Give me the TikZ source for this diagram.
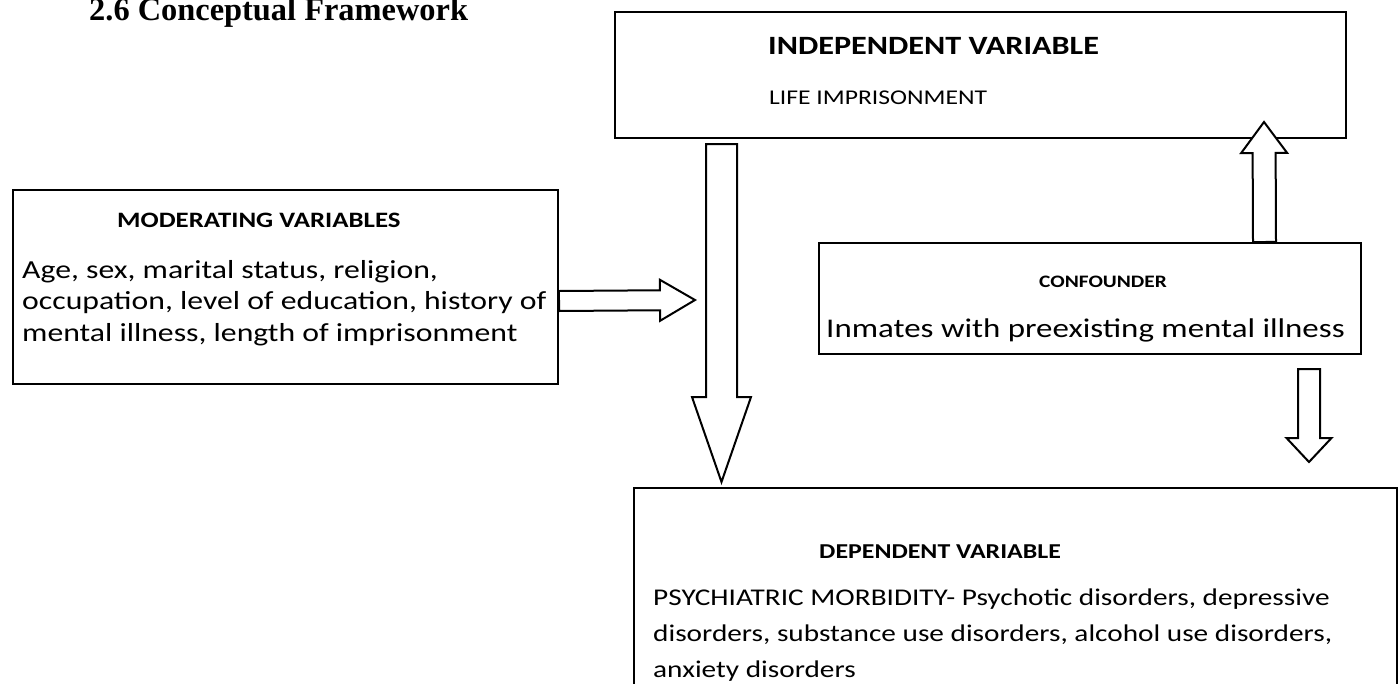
\documentclass[tikz,border=0pt]{standalone}
\usepackage{fontspec}
\setmainfont{Carlito}[FakeStretch=1.22]
\newfontfamily\titlefont{Liberation Serif}
\usetikzlibrary{positioning,calc}

% hollow block arrow: from, to, half shaft, half head, head length
\newcommand{\hollowarrow}[5]{%
  \coordinate (ha-h) at ($(#2)!#5!(#1)$);
  \draw[fat] ($(#1)!#3!90:(#2)$) -- ($(ha-h)!#3!-90:(#1)$) -- ($(ha-h)!#4!-90:(#1)$) -- (#2)
    -- ($(ha-h)!#4!90:(#1)$) -- ($(ha-h)!#3!90:(#1)$) -- ($(#1)!#3!-90:(#2)$) -- cycle;}
\newcommand{\fsz}[2]{\fontsize{#1}{#2}\selectfont}

\begin{document}
\begin{tikzpicture}[x=1pt, y=-1pt,
  box/.style={draw, line width=2pt, rectangle, anchor=north west, inner sep=0pt},
  boxhead/.style={inner sep=0pt, anchor=base west, font=\bfseries\fsz{22}{26}},
  boxtext/.style={inner sep=0pt, anchor=base west, align=left, font=\fsz{26}{31.5}},
  fat/.style={draw, fill=white, line width=2pt, line join=miter}
]
\useasboundingbox (0,0) rectangle (1398,683);

\node[inner sep=0pt, anchor=base west, font=\titlefont\bfseries\fsz{32.4}{36}] (title) at (89,20) {2.6 Conceptual Framework};

% boxes
\node[box, minimum width=731pt, minimum height=126pt] (indep) at (614,11) {};
\node[box, minimum width=545pt, minimum height=194pt] (moder) at (12,189) {};
\node[box, minimum width=542pt, minimum height=111pt] (conf) at (818,242) {};
\node[box, minimum width=763pt, minimum height=230pt] (dep) at (633,487) {};

% texts (multi-line ones sit on their last baseline)
\node[boxhead, font=\bfseries\fsz{26.4}{30}, below right=43pt and 154pt of indep.north west, anchor=base west] (indephead) {INDEPENDENT VARIABLE};
\node[boxtext, font=\fsz{21}{26}, below right=93pt and 155pt of indep.north west, anchor=base west] (indeptext) {LIFE IMPRISONMENT};
\node[boxhead, below right=38pt and 105pt of moder.north west, anchor=base west] (moderhead) {MODERATING VARIABLES};
\node[boxtext, below right=152pt and 10pt of moder.north west, anchor=base west] (modertext) {Age, sex, marital status, religion,\\occupation, level of education, history of\\mental illness, length of imprisonment};
\node[boxhead, font=\bfseries\fsz{17.5}{21}, below right=45pt and 221pt of conf.north west, anchor=base west] (confhead) {CONFOUNDER};
\node[boxtext, font=\fsz{27}{31.5}, below right=95pt and 8pt of conf.north west, anchor=base west] (conftext) {Inmates with preexisting mental illness};
\node[boxhead, font=\bfseries\fsz{21.2}{25}, below right=71pt and 186pt of dep.north west, anchor=base west] (dephead) {DEPENDENT VARIABLE};
\node[boxtext, font=\fsz{24}{36}, below right=190pt and 20pt of dep.north west, anchor=base west] (deptext) {PSYCHIATRIC MORBIDITY- Psychotic disorders, depressive\\disorders, substance use disorders, alcohol use disorders,\\anxiety disorders};

% arrow ends
\coordinate (bigtop) at ([xshift=107.5pt,yshift=-5pt]indep.south west);
\coordinate (bigtip) at ([xshift=88.5pt,yshift=5pt]dep.north west);
\coordinate (modstart) at ([yshift=-14pt]moder.east);
\coordinate (modtip) at (695,300);
\coordinate (upbase) at ([xshift=446.5pt]conf.north west);
\coordinate (uptip) at ([xshift=650pt,yshift=17pt]indep.south west);
\coordinate (dnbase) at ([xshift=491pt,yshift=-14pt]conf.south west);
\coordinate (dntip) at ([xshift=676pt,yshift=25pt]dep.north west);

% arrows
\hollowarrow{bigtop}{bigtip}{15.5pt}{29.5pt}{85pt}
\hollowarrow{modstart}{modtip}{10pt}{20.5pt}{35pt}
\hollowarrow{upbase}{uptip}{11.5pt}{23pt}{31pt}
\hollowarrow{dnbase}{dntip}{11pt}{22.5pt}{24pt}
\end{tikzpicture}
\end{document}
